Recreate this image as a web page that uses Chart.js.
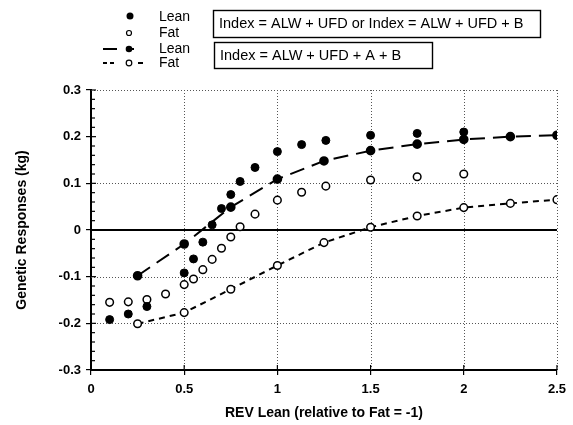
<!DOCTYPE html>
<html>
<head>
<meta charset="utf-8">
<script src="https://cdn.jsdelivr.net/npm/chart.js@4.4.0/dist/chart.umd.min.js"></script>
<style>
  html, body { margin: 0; padding: 0; background: #fff; }
  #wrap { width: 573px; height: 425px; position: relative; }
</style>
</head>
<body>
<div id="wrap"><canvas id="chart" width="573" height="425"></canvas></div>
<script>
// data
const leanDotsX = [0.1, 0.2, 0.3, 0.5, 0.55, 0.6, 0.65, 0.7, 0.75, 0.8, 0.88, 1.0, 1.13, 1.26, 1.5, 1.75, 2.0];
const leanDotsY = [-0.192, -0.18, -0.164, -0.092, -0.062, -0.026, 0.011, 0.046, 0.076, 0.104, 0.134, 0.168, 0.183, 0.192, 0.203, 0.207, 0.21];
const fatDotsX = [0.1, 0.2, 0.3, 0.4, 0.5, 0.55, 0.6, 0.65, 0.7, 0.75, 0.8, 0.88, 1.0, 1.13, 1.26, 1.5, 1.75, 2.0];
const fatDotsY = [-0.155, -0.154, -0.149, -0.137, -0.117, -0.105, -0.085, -0.063, -0.039, -0.015, 0.007, 0.034, 0.064, 0.081, 0.094, 0.107, 0.114, 0.12];
const lineX = [0.25, 0.5, 0.75, 1.0, 1.25, 1.5, 1.75, 2.0, 2.25, 2.5];
const leanLineY = [-0.098, -0.03, 0.049, 0.109, 0.148, 0.17, 0.184, 0.194, 0.2, 0.203];
const fatLineY = [-0.201, -0.177, -0.127, -0.076, -0.027, 0.006, 0.03, 0.048, 0.057, 0.065];
const yTicks = [-0.3, -0.2, -0.1, 0, 0.1, 0.2, 0.3];
const xTicks = [0, 0.5, 1, 1.5, 2, 2.5];
const dottedY = [0.3, 0.1, -0.1, -0.2];
const dottedX = [0.5, 1, 1.5, 2, 2.5];

const FONT = '"Liberation Sans", Arial, Helvetica, sans-serif';

function pts(xs, ys) {
  return xs.map((x, i) => ({ x: x, y: ys[i] }));
}

// dotted grid, zero line, minor ticks
const decor = {
  id: 'decor',
  beforeDatasetsDraw(chart) {
    const ctx = chart.ctx;
    const a = chart.chartArea;
    const xs = chart.scales.x, ys = chart.scales.y;
    ctx.save();
    ctx.strokeStyle = '#555';
    ctx.lineWidth = 1;
    ctx.setLineDash([1, 2]);
    dottedX.forEach(v => {
      const px = Math.round(xs.getPixelForValue(v)) + 0.5;
      ctx.beginPath(); ctx.moveTo(px, a.top); ctx.lineTo(px, a.bottom); ctx.stroke();
    });
    dottedY.forEach(v => {
      const py = Math.round(ys.getPixelForValue(v)) + 0.5;
      ctx.beginPath(); ctx.moveTo(a.left, py); ctx.lineTo(a.right, py); ctx.stroke();
    });
    ctx.setLineDash([]);
    ctx.strokeStyle = '#000';
    ctx.lineWidth = 2;
    const y0 = ys.getPixelForValue(0);
    ctx.beginPath(); ctx.moveTo(a.left, y0); ctx.lineTo(a.right, y0); ctx.stroke();
    // minor ticks on y axis, every 0.02
    ctx.lineWidth = 1.2;
    for (let k = -15; k <= 15; k++) {
      if (k % 5 === 0) continue;
      const py = ys.getPixelForValue(k * 0.02);
      ctx.beginPath(); ctx.moveTo(a.left, py); ctx.lineTo(a.left + 4, py); ctx.stroke();
    }
    // inner part of major ticks
    yTicks.forEach(v => {
      const py = ys.getPixelForValue(v);
      ctx.beginPath(); ctx.moveTo(a.left, py); ctx.lineTo(a.left + 5, py); ctx.stroke();
    });
    xTicks.forEach(v => {
      const px = xs.getPixelForValue(v);
      ctx.beginPath(); ctx.moveTo(px, a.bottom); ctx.lineTo(px, a.bottom - 5); ctx.stroke();
    });
    ctx.restore();
  }
};

// the legend and the two boxed notes
const notes = {
  id: 'notes',
  afterDraw(chart) {
    const ctx = chart.ctx;
    ctx.save();
    ctx.fillStyle = '#000';
    ctx.strokeStyle = '#000';
    ctx.font = '14px ' + FONT;
    ctx.textBaseline = 'middle';

    const sx = 130, tx = 159;
    // Lean dots
    ctx.beginPath(); ctx.arc(sx, 16, 3.5, 0, Math.PI * 2); ctx.fill();
    ctx.fillText('Lean', tx, 17);
    // Fat dots
    ctx.lineWidth = 1.2;
    ctx.beginPath(); ctx.arc(sx - 1, 33, 2.5, 0, Math.PI * 2); ctx.stroke();
    ctx.fillText('Fat', tx, 33);
    // Lean line
    ctx.lineWidth = 2;
    ctx.beginPath(); ctx.moveTo(103, 49); ctx.lineTo(117, 49); ctx.stroke();
    ctx.beginPath(); ctx.moveTo(129, 49); ctx.lineTo(134, 49); ctx.stroke();
    ctx.beginPath(); ctx.arc(sx - 1, 49, 3.3, 0, Math.PI * 2); ctx.fill();
    ctx.fillText('Lean', tx, 49);
    // Fat line
    ctx.beginPath(); ctx.moveTo(103, 63); ctx.lineTo(107, 63); ctx.stroke();
    ctx.beginPath(); ctx.moveTo(110, 63); ctx.lineTo(114, 63); ctx.stroke();
    ctx.beginPath(); ctx.moveTo(138, 63); ctx.lineTo(143, 63); ctx.stroke();
    ctx.lineWidth = 1.2;
    ctx.fillStyle = '#fff';
    ctx.beginPath(); ctx.arc(sx - 1, 63, 2.8, 0, Math.PI * 2); ctx.fill(); ctx.stroke();
    ctx.fillStyle = '#000';
    ctx.fillText('Fat', tx, 63);

    // boxes
    ctx.font = '14.5px ' + FONT;
    ctx.lineWidth = 1.4;
    ctx.strokeRect(213.5, 10.5, 327, 27);
    ctx.fillText('Index = ALW + UFD or Index = ALW + UFD + B', 219, 24);
    ctx.strokeRect(214.5, 42.5, 218, 26);
    ctx.fillText('Index = ALW + UFD + A + B', 220, 56);
    ctx.restore();
  }
};

const ctx = document.getElementById('chart').getContext('2d');
new Chart(ctx, {
  type: 'scatter',
  data: {
    datasets: [
      {
        label: 'Lean line',
        data: pts(lineX, leanLineY),
        showLine: true,
        borderColor: '#000',
        borderWidth: 2,
        borderDash: [15, 8],
        tension: 0,
        pointRadius: 3.8,
        pointBackgroundColor: '#000',
        pointBorderColor: '#000'
      },
      {
        label: 'Fat line',
        data: pts(lineX, fatLineY),
        showLine: true,
        borderColor: '#000',
        borderWidth: 2,
        borderDash: [6, 5],
        tension: 0,
        pointRadius: 3.8,
        pointBorderWidth: 1.5,
        pointBackgroundColor: '#fff',
        pointBorderColor: '#000'
      },
      {
        label: 'Lean',
        data: pts(leanDotsX, leanDotsY),
        pointRadius: 4,
        pointBackgroundColor: '#000',
        pointBorderColor: '#000'
      },
      {
        label: 'Fat',
        data: pts(fatDotsX, fatDotsY),
        pointRadius: 3.8,
        pointBorderWidth: 1.5,
        pointBackgroundColor: '#fff',
        pointBorderColor: '#000'
      }
    ]
  },
  options: {
    responsive: false,
    animation: false,
    events: [],
    layout: { padding: { top: 90, right: 13, left: 0, bottom: 0 } },
    plugins: { legend: { display: false }, tooltip: { enabled: false } },
    scales: {
      x: {
        type: 'linear',
        min: 0, max: 2.5,
        afterFit: s => { s.height = 55; },
        afterBuildTicks: s => { s.ticks = xTicks.map(v => ({ value: v })); },
        ticks: {
          color: '#000',
          font: { family: FONT, size: 13, weight: 'bold' },
          padding: 7,
          callback: v => String(v)
        },
        grid: { drawOnChartArea: false, drawTicks: true, tickLength: 5, color: '#000', lineWidth: 1.2 },
        border: { display: true, color: '#000', width: 2 },
        title: {
          display: true,
          text: 'REV Lean (relative to Fat = -1)',
          color: '#000',
          font: { family: FONT, size: 14, weight: 'bold' },
          padding: { top: 0, bottom: 3 }
        }
      },
      y: {
        min: -0.3, max: 0.3,
        afterFit: s => { s.width = 91; },
        afterBuildTicks: s => { s.ticks = yTicks.map(v => ({ value: v })); },
        ticks: {
          color: '#000',
          font: { family: FONT, size: 13, weight: 'bold' },
          padding: 5,
          callback: v => String(Number(v.toFixed(1)))
        },
        grid: { drawOnChartArea: false, drawTicks: true, tickLength: 5, color: '#000', lineWidth: 1.2 },
        border: { display: true, color: '#000', width: 2 },
        title: {
          display: true,
          text: 'Genetic Responses (kg)',
          color: '#000',
          font: { family: FONT, size: 14, weight: 'bold' },
          padding: { top: 14, bottom: 0 }
        }
      }
    }
  },
  plugins: [decor, notes]
});
</script>
</body>
</html>
